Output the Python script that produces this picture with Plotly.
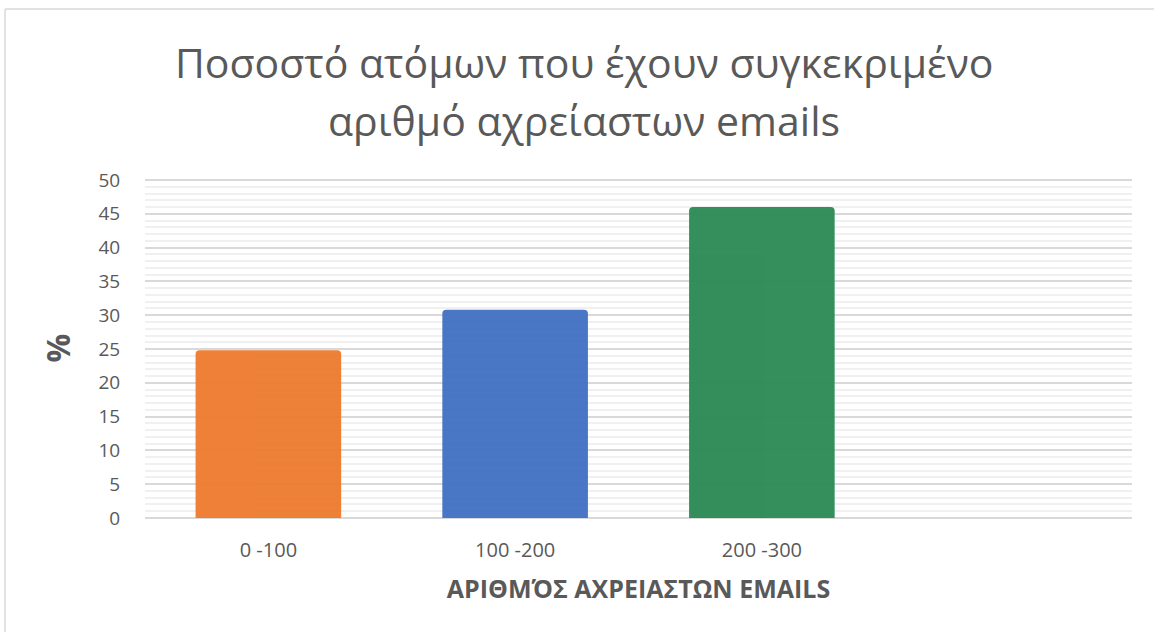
import plotly.graph_objects as go

categories = ["0 -100", "100 -200", "200 -300"]
values = [24.8, 30.8, 46.0]
colors = ["#ED7D31", "#4472C4", "#2E8B57"]
title_lines = ["Ποσοστό ατόμων που έχουν συγκεκριμένο", "αριθμό αχρείαστων emails"]
x_title = "ΑΡΙΘΜΌΣ ΑΧΡΕΙΑΣΤΩΝ EMAILS"
y_title = "%"
y_ticks = [0, 5, 10, 15, 20, 25, 30, 35, 40, 45, 50]

W, H = 1154, 632
L, R, T, B = 145, 22, 178, 114
gray = "#595959"
font_fam = "Open Sans, Noto Sans, sans-serif"

fig = go.Figure()
fig.add_trace(go.Bar(
    x=categories, y=values,
    marker=dict(color=colors, cornerradius=4, line=dict(width=0)),
    opacity=0.97,
    width=0.59,
    hoverinfo="skip",
))

pw = W - L - R
ph = H - T - B

title_y_px = [62, 120]
annotations = []
for line, ypx in zip(title_lines, title_y_px):
    annotations.append(dict(
        text=line, xref="paper", yref="paper",
        x=(584 - L) / pw, y=(H - B - ypx) / ph,
        xanchor="center", yanchor="middle", showarrow=False,
        font=dict(size=41, color=gray, family=font_fam),
    ))

fig.update_layout(
    width=W, height=H,
    margin=dict(l=L, r=R, t=T, b=B),
    paper_bgcolor="white", plot_bgcolor="white",
    showlegend=False,
    font=dict(family=font_fam, color=gray),
    annotations=annotations,
    xaxis=dict(
        type="category",
        categoryorder="array", categoryarray=categories,
        range=[-0.5, 3.5],
        showgrid=False, zeroline=False, showline=False,
        ticks="outside", ticklen=14, tickcolor="rgba(0,0,0,0)",
        tickfont=dict(size=20, color=gray, family=font_fam),
        title=dict(text="<b>" + x_title + "</b>", standoff=18,
                   font=dict(size=25, color=gray, family=font_fam)),
    ),
    yaxis=dict(
        range=[0, 50.3],
        tickvals=y_ticks,
        showgrid=True, gridcolor="#D9D9D9", gridwidth=1.6,
        minor=dict(dtick=1, showgrid=True, gridcolor="#F0F0F0", gridwidth=1.6),
        zeroline=True, zerolinecolor="#D9D9D9", zerolinewidth=1.6,
        showline=False,
        ticks="outside", ticklen=20, tickcolor="rgba(0,0,0,0)",
        tickfont=dict(size=19, color=gray, family=font_fam),
        title=dict(text="<b>" + y_title + "</b>", standoff=18,
                   font=dict(size=32, color=gray, family=font_fam)),
    ),
    shapes=[
        dict(type="line", xref="paper", yref="paper",
             x0=(5 - L) / pw, x1=(W + 10 - L) / pw,
             y0=(H - B - 9) / ph, y1=(H - B - 9) / ph,
             line=dict(color="#D9D9D9", width=1.5)),
        dict(type="line", xref="paper", yref="paper",
             x0=(5 - L) / pw, x1=(5 - L) / pw,
             y0=(H - B - 9) / ph, y1=(-B - 10) / ph,
             line=dict(color="#D9D9D9", width=1.5)),
    ],
)

fig.write_html("out.html")
